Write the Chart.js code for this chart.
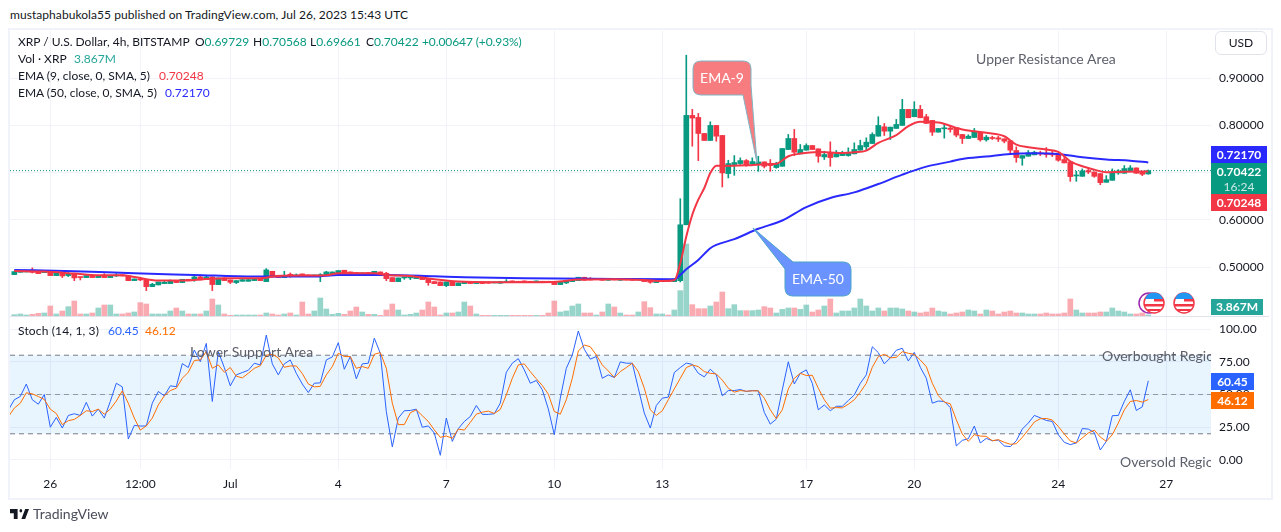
<!DOCTYPE html>
<html>
<head>
<meta charset="utf-8">
<title>XRP / U.S. Dollar</title>
<script src="https://cdn.jsdelivr.net/npm/chart.js@4"></script>
<style>
  html, body { margin: 0; padding: 0; background: #fff; }
  body { position: relative; width: 1281px; height: 532px; overflow: hidden; font-family: "Lato", sans-serif; font-size: 12px; color: #131722; }
  .abs { position: absolute; white-space: nowrap; }
  .frame { position: absolute; left: 8px; top: 28px; width: 1261px; height: 468px; border: 2px solid #F0F3FA; }
  .sep { position: absolute; left: 10px; top: 316px; width: 1259px; height: 1px; background: #E0E3EB; }
  canvas { position: absolute; display: block; }
  .line { position: absolute; white-space: nowrap; line-height: 17px; height: 17px; }
  .g { color: #089981; }
  .tag { position: absolute; left: 1211px; color: #fff; font-weight: 700; text-align: center; white-space: nowrap; line-height: 17px; }
  .draw { position: absolute; color: #5D606B; font-size: 14px; white-space: nowrap; line-height: 16px; }
  .clip { position: absolute; left: 10px; top: 317px; width: 1201px; height: 152px; overflow: hidden; }
  #usd { position: absolute; left: 1215px; top: 31px; width: 50px; height: 22px; border: 1px solid #E0E3EB; border-radius: 6px; line-height: 22px; text-align: center; }
  svg { position: absolute; overflow: visible; }
</style>
</head>
<body>
<div class="abs" style="left:10px;top:7px;line-height:16px;letter-spacing:.06px">mustaphabukola55 published on TradingView.com, Jul 26, 2023 15:43 UTC</div>
<div class="frame"></div>
<canvas id="priceChart" width="1260" height="285" style="left:10px;top:31px"></canvas>
<canvas id="stochChart" width="1260" height="180" style="left:10px;top:317px"></canvas>
<div class="sep"></div>

<div class="line" style="top:33px;left:18px">XRP / U.S. Dollar, 4h, BITSTAMP</div>
<div class="line" style="top:33px;left:195px">O<span class="g">0.69729</span></div>
<div class="line" style="top:33px;left:253px">H<span class="g">0.70568</span></div>
<div class="line" style="top:33px;left:310px">L<span class="g">0.69661</span></div>
<div class="line" style="top:33px;left:366px">C<span class="g">0.70422</span></div>
<div class="line g" style="top:33px;left:422px;letter-spacing:-.1px">+0.00647 (+0.93%)</div>
<div class="line" style="top:50px;left:18px">Vol · XRP</div>
<div class="line" style="top:50px;left:74px;color:#26A69A">3.867M</div>
<div class="line" style="top:67px;left:18px">EMA (9, close, 0, SMA, 5)</div>
<div class="line" style="top:67px;left:159px;color:#F23645">0.70248</div>
<div class="line" style="top:84px;left:18px">EMA (50, close, 0, SMA, 5)</div>
<div class="line" style="top:84px;left:165px;color:#2A2AFF">0.72170</div>
<div class="line" style="top:322px;left:18px;letter-spacing:.15px">Stoch (14, 1, 3)</div>
<div class="line" style="top:322px;left:108px;color:#2962FF">60.45</div>
<div class="line" style="top:322px;left:145px;color:#FF6D00">46.12</div>

<div class="draw" style="left:976px;top:51px;letter-spacing:.08px">Upper Resistance Area</div>
<div class="clip">
  <div class="draw" style="left:180px;top:27px;letter-spacing:.08px">Lower Support Area</div>
  <div class="draw" style="left:1092px;top:31px">Overbought Region</div>
  <div class="draw" style="left:1110px;top:137px">Oversold Region</div>
</div>

<svg width="1281" height="532" style="left:0;top:0">
  <path d="M701,61 H743 Q751,61 751,69 V85 L757,163 L743,95 H701 Q693,95 693,87 V69 Q693,61 701,61 Z" fill="#F77C80" stroke="#7FB5C4" stroke-width="1"/>
  <path d="M793,262 H843 Q851,262 851,270 V288 Q851,296 843,296 H793 Q785,296 785,288 V269 L753,228 Z" fill="#6A93FF" stroke="#4BA3C7" stroke-width="1"/>
  <circle cx="1149" cy="303" r="10" fill="none" stroke="#9C27B0" stroke-width="1.5"/>
  <g>
    <circle cx="1154" cy="303" r="10" fill="#fff" stroke="#F23645" stroke-width="1.5"/>
    <path d="M1145,299 A9.5,9.5 0 0 1 1163,299 H1154 Z" fill="#2196F3"/>
    <path d="M1154,299 H1163 L1163.5,301.5 H1154 Z M1144.5,304 H1163.5 L1163,306.5 H1145 Z M1146.5,309 H1161.5 L1159,311 H1149 Z" fill="#F23645"/>
  </g>
  <g>
    <circle cx="1184" cy="303" r="10" fill="#fff" stroke="#F23645" stroke-width="1.5"/>
    <path d="M1175,299 A9.5,9.5 0 0 1 1193,299 H1184 Z" fill="#2196F3"/>
    <path d="M1184,299 H1193 L1193.5,301.5 H1184 Z M1174.5,304 H1193.5 L1193,306.5 H1175 Z M1176.5,309 H1191.5 L1189,311 H1179 Z" fill="#F23645"/>
  </g>
  <svg x="10" y="509" width="19" height="10" viewBox="0 6 35 14" preserveAspectRatio="none"><path d="M14 6H0v6h7v8h7V6zM28 20h-7l7-14h7l-7 14z" fill="#131722"/><circle cx="20" cy="8.5" r="2.5" fill="#131722"/></svg>
</svg>
<div class="abs" style="left:693px;top:69px;width:58px;text-align:center;color:#fff;font-size:14px;line-height:18px">EMA-9</div>
<div class="abs" style="left:785px;top:270px;width:66px;text-align:center;color:#fff;font-size:14px;line-height:18px">EMA-50</div>
<div class="abs" style="left:33px;top:506px;font-size:14px;line-height:16px;color:#4A4E5A">TradingView</div>

<div id="usd">USD</div>
<div class="tag" style="top:146px;width:56px;height:17px;background:#2A2AFF">0.72170</div>
<div class="tag" style="top:163px;width:56px;height:31px;background:#089981">0.70422<div style="font-weight:400;line-height:14px;color:#CDE9E4">16:24</div></div>
<div class="tag" style="top:194px;width:56px;height:17px;background:#F23645">0.70248</div>
<div class="tag" style="top:299px;width:52px;height:16px;line-height:16px;background:#26A69A">3.867M</div>
<div class="tag" style="top:373px;width:43px;height:17px;background:#2962FF">60.45</div>
<div class="tag" style="top:392px;width:43px;height:17px;background:#FF6D00">46.12</div>

<script>
// candles, one per 4h bar
const opens = [
  .4845,.4894,.4901,.4937,.4901,.4887,.4908,.4824,.4873,.4824,
  .4859,.4796,.4782,.4831,.4782,.4831,.4782,.4817,.4838,.4817,
  .4718,.4753,.4739,.4591,.4627,.4655,.4655,.4718,.4676,.4746,
  .4732,.4796,.4739,.4796,.4634,.4775,.4732,.4676,.4704,.4704,
  .4718,.4746,.4697,.4915,.4831,.4782,.4852,.4817,.4859,.4838,
  .4803,.4817,.4824,.4859,.4873,.4937,.4901,.4887,.4831,.4887,
  .4866,.4901,.4873,.4782,.4697,.4775,.4775,.4760,.4817,.4767,
  .4697,.4690,.4612,.4704,.4612,.4655,.4690,.4655,.4690,.4690,
  .4669,.4662,.4676,.4711,.4704,.4711,.4704,.4683,.4704,.4704,
  .4704,.4634,.4669,.4697,.4718,.4789,.4760,.4739,.4767,.4725,
  .4753,.4725,.4753,.4753,.4732,.4746,.4732,.4676,.4697,.4739,
  .4697,.4717,.5898,.8210,.8167,.7828,.7680,.7998,.7786,.6980,
  .7171,.7192,.7255,.7178,.7178,.7227,.7185,.7107,.7135,.7489,
  .7722,.7397,.7475,.7573,.7503,.7333,.7418,.7333,.7361,.7361,
  .7397,.7475,.7545,.7616,.7771,.7969,.7877,.7934,.7998,.8337,
  .8182,.8337,.8182,.8104,.7856,.7927,.7941,.7948,.7807,.7722,
  .7743,.7856,.7694,.7743,.7736,.7715,.7672,.7468,.7305,.7347,
  .7376,.7418,.7411,.7397,.7404,.7277,.7227,.6930,.6923,.7043,
  .7015,.6980,.6796,.6838,.6994,.6987,.7043,.7100,.7015,.69729
];
const highs = [
  .4908,.4930,.4930,.4986,.4901,.4915,.4908,.4873,.4873,.4887,
  .4859,.4796,.4824,.4831,.4831,.4866,.4831,.4866,.4838,.4817,
  .4753,.4789,.4739,.4662,.4690,.4704,.4732,.4718,.4746,.4746,
  .4824,.4838,.4831,.4796,.4775,.4775,.4732,.4718,.4739,.4760,
  .4746,.4746,.4972,.4915,.4831,.4915,.4880,.4859,.4859,.4838,
  .4838,.4866,.4915,.4901,.4930,.4937,.4901,.4887,.4880,.4887,
  .4915,.4901,.4894,.4782,.4775,.4789,.4796,.4831,.4817,.4767,
  .4697,.4690,.4690,.4704,.4669,.4690,.4690,.4690,.4690,.4690,
  .4690,.4697,.4739,.4711,.4704,.4711,.4704,.4711,.4704,.4704,
  .4704,.4690,.4718,.4725,.4789,.4789,.4782,.4760,.4767,.4746,
  .4753,.4760,.4753,.4753,.4753,.4746,.4732,.4718,.4732,.4739,
  .4753,.6449,.9482,.8337,.8252,.7828,.8075,.7998,.7786,.7262,
  .7361,.7312,.7277,.7312,.7347,.7227,.7277,.7220,.7510,.7807,
  .7913,.7595,.7609,.7573,.7503,.7453,.7651,.7468,.7453,.7524,
  .7630,.7687,.7736,.7842,.8182,.8040,.7962,.8125,.8549,.8337,
  .8500,.8422,.8231,.8104,.7934,.8033,.7998,.7948,.7807,.7800,
  .7934,.7856,.7786,.7771,.7771,.7715,.7672,.7545,.7361,.7468,
  .7453,.7453,.7531,.7453,.7404,.7361,.7227,.7029,.7079,.7079,
  .7015,.6980,.6937,.7079,.7064,.7149,.7149,.7100,.7015,.70568
];
const lows = [
  .4845,.4894,.4901,.4880,.4866,.4887,.4824,.4824,.4782,.4803,
  .4718,.4732,.4782,.4782,.4782,.4782,.4782,.4803,.4817,.4718,
  .4718,.4718,.4507,.4591,.4627,.4655,.4655,.4676,.4676,.4718,
  .4704,.4732,.4739,.4507,.4634,.4718,.4655,.4655,.4704,.4704,
  .4718,.4718,.4697,.4796,.4782,.4782,.4789,.4803,.4803,.4803,
  .4803,.4697,.4824,.4859,.4873,.4873,.4859,.4831,.4831,.4852,
  .4866,.4852,.4718,.4697,.4697,.4746,.4739,.4760,.4739,.4619,
  .4655,.4612,.4591,.4612,.4612,.4655,.4655,.4655,.4655,.4662,
  .4669,.4662,.4676,.4683,.4676,.4690,.4683,.4683,.4683,.4683,
  .4634,.4634,.4655,.4697,.4718,.4725,.4732,.4739,.4725,.4725,
  .4732,.4725,.4732,.4725,.4732,.4697,.4662,.4676,.4697,.4697,
  .4697,.4690,.5898,.7559,.7255,.7680,.7680,.7665,.6697,.6888,
  .6944,.7171,.7135,.7149,.7029,.7100,.7029,.7093,.7135,.7489,
  .7361,.7397,.7475,.7489,.7220,.7277,.7135,.7333,.7361,.7347,
  .7397,.7475,.7475,.7616,.7771,.7786,.7701,.7934,.7998,.8160,
  .8182,.8160,.8040,.7786,.7856,.7729,.7856,.7757,.7616,.7722,
  .7743,.7665,.7665,.7701,.7658,.7630,.7404,.7220,.7156,.7347,
  .7376,.7361,.7326,.7340,.7241,.7206,.6817,.6817,.6923,.6980,
  .6902,.6746,.6796,.6838,.6965,.6987,.7043,.6987,.6937,.69661
];
const closes = [
  .4908,.4930,.4930,.4894,.4866,.4915,.4824,.4873,.4817,.4866,
  .4775,.4782,.4824,.4782,.4831,.4782,.4831,.4838,.4817,.4718,
  .4753,.4732,.4591,.4641,.4690,.4683,.4704,.4676,.4746,.4718,
  .4796,.4732,.4796,.4634,.4775,.4718,.4683,.4718,.4739,.4739,
  .4746,.4718,.4944,.4796,.4782,.4831,.4810,.4838,.4803,.4803,
  .4838,.4845,.4901,.4901,.4930,.4873,.4859,.4831,.4880,.4852,
  .4915,.4852,.4760,.4697,.4775,.4789,.4796,.4810,.4739,.4676,
  .4655,.4612,.4690,.4612,.4669,.4690,.4655,.4690,.4655,.4662,
  .4690,.4697,.4704,.4683,.4676,.4690,.4683,.4711,.4683,.4683,
  .4634,.4690,.4718,.4725,.4789,.4725,.4732,.4760,.4725,.4746,
  .4732,.4760,.4732,.4725,.4753,.4697,.4683,.4718,.4732,.4697,
  .4753,.5898,.8210,.8153,.7828,.7680,.7998,.7771,.6994,.7192,
  .7213,.7255,.7171,.7234,.7227,.7135,.7149,.7185,.7510,.7722,
  .7432,.7489,.7573,.7489,.7347,.7383,.7319,.7397,.7397,.7418,
  .7489,.7573,.7644,.7807,.7998,.7877,.7962,.8019,.8337,.8160,
  .8337,.8160,.8040,.7856,.7934,.7941,.7913,.7793,.7722,.7771,
  .7856,.7694,.7750,.7722,.7708,.7665,.7475,.7319,.7361,.7418,
  .7432,.7397,.7383,.7376,.7262,.7206,.6916,.6951,.7036,.7015,
  .6923,.6789,.6852,.7015,.7036,.7086,.7100,.6987,.6965,.70422
];
// volume, relative units (only the bar heights can be read)
const volumes = [
  4,6,3,5,8,9,30,6,15,28,
  45,6,6,9,24,33,33,6,6,9,
  12,40,36,6,6,6,15,24,15,6,
  6,6,15,51,33,6,2,3,3,3,
  3,3,9,6,3,6,9,3,42,6,
  15,54,21,5,8,5,15,27,12,5,
  5,2,18,36,18,3,5,9,18,42,
  27,3,9,9,12,42,30,6,2,2,
  2,2,2,2,2,2,2,2,2,9,
  45,12,15,30,36,9,9,3,12,36,
  27,9,3,3,12,43,25,6,6,3,
  18,76,216,34,22,22,30,42,72,22,
  34,16,16,16,18,28,24,9,20,24,
  24,20,33,12,18,30,51,9,15,15,
  24,51,30,15,24,15,24,24,21,15,
  12,9,12,24,15,12,6,9,12,18,
  15,6,18,15,6,12,15,9,9,6,
  6,6,9,6,6,9,51,18,9,9,
  9,12,12,24,15,12,6,6,9,3
];

// EMAs are read at these bars only
const ema9Bars = [0,5,10,14,18,20,24,28,32,36,40,42,44,48,52,54,60,62,66,70,74,80,90,94,100,105,108,110,111,112,113,114,115,116,117,118,122,126,127,129,131,134,138,140,142,144,147,149,151,154,157,158,162,165,167,169,172,174,176,178,180,182,185,189];
const ema9Values = [.4922,.4908,.4866,.4831,.4831,.4796,.4718,.4718,.4753,.4767,.4767,.4781,.4817,.4824,.4831,.4873,.4873,.4838,.4817,.4746,.4697,.4683,.4690,.4739,.4746,.4732,.4711,.4725,.5085,.5650,.6110,.6428,.6675,.6993,.7148,.7141,.7155,.7184,.7190,.7346,.7403,.7438,.7417,.7431,.7466,.7629,.7792,.7982,.8074,.8060,.7947,.7912,.7841,.7770,.7594,.7537,.7488,.7438,.7240,.7134,.7064,.7007,.7021,.70248];
const ema50Bars = [0,10,20,30,40,50,54,62,70,75,85,100,110,111,112,114,116,117,120,124,128,132,136,140,144,148,152,156,158,162,166,170,174,178,182,186,189];
const ema50Values = [.4944,.4915,.4873,.4838,.4803,.4803,.4838,.4838,.4810,.4789,.4767,.4753,.4746,.4837,.4958,.5155,.5403,.5473,.5594,.5813,.5989,.6272,.6463,.6583,.6760,.6958,.7127,.7233,.7290,.7339,.7396,.7410,.7396,.7325,.7276,.7254,.7217];
const lastClose = 0.70422;

// stochastic, first value belongs to the bar cut off at the left edge
const stochK = [
  38,
  46,48.5,58,46,42.6,50,25,32.5,24.4,34,
  35.3,34,44,33.5,38.8,32,44.7,58.6,55.8,16,
  26.4,25.9,26,43.4,52.3,49,56.6,56,73.6,70.6,
  84,75,89,44.7,82.7,70.6,56.6,65,66.8,68.5,
  73.9,72.6,95.4,73.4,65,73.4,76.4,66.2,58,51.5,
  58.6,58.9,76.4,78.7,89.6,69.3,79,62,73.4,73.9,
  93,81.5,37,10,32,37.6,37.8,38.8,25,26,
  20.6,3.6,32,14.2,23.9,29.4,33.2,41.6,34.8,34.8,
  35.3,43.4,67,73.9,77.4,68.8,58.6,60.7,53.6,39,
  19.3,47.2,70,80.2,98.5,84.5,77,79,62.4,65,
  63,74.9,73.9,73.9,54.8,35.8,24.4,41.6,47.2,48,
  66.8,70.6,74,73,66.2,63.5,69.3,65,49,53,
  53,53.8,52.3,53,52.8,36.3,27.4,31.2,53.6,75,
  58,66.2,68.8,58.6,38.3,42,37.6,41,41,45.4,
  49.7,58.6,65,86.5,82,73.4,78,83.8,85.3,75.6,
  82.2,70.8,62.4,43.4,45,44.7,40,10.7,15,16.2,
  25.9,13,16.5,14.7,15.2,10.7,10.2,14.7,23.6,28.2,
  34,32.2,30.2,29.4,19.3,13.5,11.7,13,24,23.6,
  21,7.6,14.2,33.8,34,44.7,53.6,37.8,40.6,60.45
];
const stochD = [
  33,
  39.6,43.4,51.3,50.5,48.5,46.2,38.8,35.5,27,30,
  31,34,37.6,37,38.8,35,38.8,45,52.8,43.4,
  32,22.8,26,32,42,49,53,54.8,62.4,67,
  76,76.4,82.7,70,72.6,67,70.6,64,62.7,66.2,
  70,72,80,80.7,78,70.8,71.8,71.8,66,58,
  55.8,56.3,65,71.3,81.5,79,79,70,71.3,70,
  80.7,82,70,43.4,27,27,36,38.3,33.8,29.4,
  23,17.3,18.3,16.5,23.6,22.8,28.7,35,36.5,37.3,
  35.5,38.6,49.7,62.4,72.6,73.4,67.5,62,56.9,50.3,
  37,35,46,62.4,83.2,87.8,86.5,80.2,72.6,68,
  63,67.5,70.6,73.9,67.5,54.8,38.3,34,37.6,46,
  54.3,62.4,70.6,72.6,71.3,67.5,66.2,65.7,61,54.8,
  51.8,53,52.5,52.8,52.8,47.2,38.3,31.5,38.3,54.3,
  62.4,66.2,64.5,64.7,54.8,46,39.6,40,39.8,42.6,
  46,51.8,58.6,70.8,79,80.7,78,78.4,82.7,81.5,
  80.7,76.4,71.3,58.6,49.2,44.2,42.9,30.7,19.8,14.2,
  19.3,18.3,18,14.7,15.5,13.5,12,12.4,17.3,23,
  29,31.5,31.7,30.5,25.6,19.8,14.5,13,16.8,20.6,
  22.8,17.5,14.2,19.3,28.2,38.3,44.7,45.4,44.2,46.12
];

// axis ticks
const timeTickBars = [6,21,36,54,72,90,108,132,150,174,192];
const timeTickLabels = ["26","12:00","Jul","4","7","10","13","17","20","24","27"];
const priceTicks = [0.5,0.6,0.7,0.8,0.9];
const stochTicks = [0,25,50,75,100];

const GREEN = '#089981', RED = '#F23645';
const GRID = '#F0F3FA';
const FONT = { family: 'Lato, sans-serif', size: 12 };
const xMin = -0.717, xMax = 199.45; // pane edges in bar units

const isUp = i => closes[i] >= opens[i];
const noMargins = s => { s.paddingTop = s.paddingBottom = s.paddingLeft = s.paddingRight = 0; };

function xAxis(showLabels) {
  return {
    type: 'linear', min: xMin, max: xMax, offset: false,
    afterBuildTicks: s => { s.ticks = timeTickBars.map(v => ({ value: v })); },
    afterFit: s => { noMargins(s); s.height = showLabels ? 28 : 0; },
    grid: { color: GRID, offset: false, drawTicks: false },
    border: { display: false },
    ticks: {
      display: showLabels, autoSkip: false, maxRotation: 0, padding: 8, color: '#131722', font: FONT,
      callback: (v, i) => timeTickLabels[i]
    }
  };
}

function yAxis(min, max, tickValues, digits) {
  return {
    position: 'right', min, max,
    afterBuildTicks: s => { s.ticks = tickValues.map(v => ({ value: v })); },
    afterFit: s => { noMargins(s); s.width = 59; },
    grid: { color: GRID, drawTicks: false },
    border: { display: false },
    ticks: { padding: 8, color: '#131722', font: FONT, callback: v => v.toFixed(digits) }
  };
}

const lineStyle = { type: 'line', pointRadius: 0, fill: false };
const baseOptions = {
  responsive: false, animation: false, events: [],
  layout: { padding: 0 },
  plugins: { legend: { display: false }, tooltip: { enabled: false } }
};

new Chart(document.getElementById('priceChart'), {
  type: 'bar',
  data: {
    datasets: [
      {
        label: 'Volume', yAxisID: 'yVol', order: 6, barThickness: 5, grouped: false,
        data: volumes.map((v, i) => ({ x: i, y: v })),
        backgroundColor: ctx => isUp(ctx.dataIndex) ? 'rgba(8,153,129,0.42)' : 'rgba(242,54,69,0.42)'
      },
      {
        ...lineStyle, label: 'Last', yAxisID: 'y', order: 5, borderColor: GREEN, borderWidth: 1, borderDash: [1, 2],
        data: [{ x: xMin, y: lastClose }, { x: xMax, y: lastClose }]
      },
      {
        label: 'Wicks', yAxisID: 'y', order: 4, barThickness: 1, grouped: false,
        data: highs.map((h, i) => ({ x: i, y: [lows[i], h] })),
        backgroundColor: ctx => isUp(ctx.dataIndex) ? GREEN : RED
      },
      {
        label: 'Bodies', yAxisID: 'y', order: 3, barThickness: 5, grouped: false, minBarLength: 1,
        data: opens.map((o, i) => ({ x: i, y: [o, closes[i]] })),
        backgroundColor: ctx => isUp(ctx.dataIndex) ? GREEN : RED
      },
      {
        ...lineStyle, label: 'EMA 50', yAxisID: 'y', order: 2, borderColor: '#2A2AFF', borderWidth: 2, cubicInterpolationMode: 'monotone',
        data: ema50Bars.map((b, i) => ({ x: b, y: ema50Values[i] }))
      },
      {
        ...lineStyle, label: 'EMA 9', yAxisID: 'y', order: 1, borderColor: RED, borderWidth: 2, cubicInterpolationMode: 'monotone',
        data: ema9Bars.map((b, i) => ({ x: b, y: ema9Values[i] }))
      }
    ]
  },
  options: {
    ...baseOptions,
    scales: {
      x: xAxis(false),
      y: yAxis(0.397, 0.9994, priceTicks, 5),
      yVol: { display: false, min: 0, max: 855 }
    }
  }
});

new Chart(document.getElementById('stochChart'), {
  type: 'line',
  data: {
    datasets: [
      {
        ...lineStyle, label: 'Upper', order: 5, borderColor: '#787B86', borderWidth: 1, borderDash: [5, 4],
        backgroundColor: 'rgba(33,150,243,0.1)', fill: { value: 20 },
        data: [{ x: xMin, y: 80 }, { x: xMax, y: 80 }]
      },
      {
        ...lineStyle, label: 'Middle', order: 4, borderColor: 'rgba(120,123,134,0.75)', borderWidth: 1, borderDash: [5, 4],
        data: [{ x: xMin, y: 50 }, { x: xMax, y: 50 }]
      },
      {
        ...lineStyle, label: 'Lower', order: 3, borderColor: '#787B86', borderWidth: 1, borderDash: [5, 4],
        data: [{ x: xMin, y: 20 }, { x: xMax, y: 20 }]
      },
      {
        ...lineStyle, label: '%D', order: 1, borderColor: '#FF6D00', borderWidth: 1,
        data: stochD.map((v, i) => ({ x: i - 1, y: v }))
      },
      {
        ...lineStyle, label: '%K', order: 2, borderColor: '#2962FF', borderWidth: 1,
        data: stochK.map((v, i) => ({ x: i - 1, y: v }))
      }
    ]
  },
  options: {
    ...baseOptions,
    scales: {
      x: xAxis(true),
      y: yAxis(-6.9, 109.2, stochTicks, 2)
    }
  }
});
</script>
</body>
</html>
